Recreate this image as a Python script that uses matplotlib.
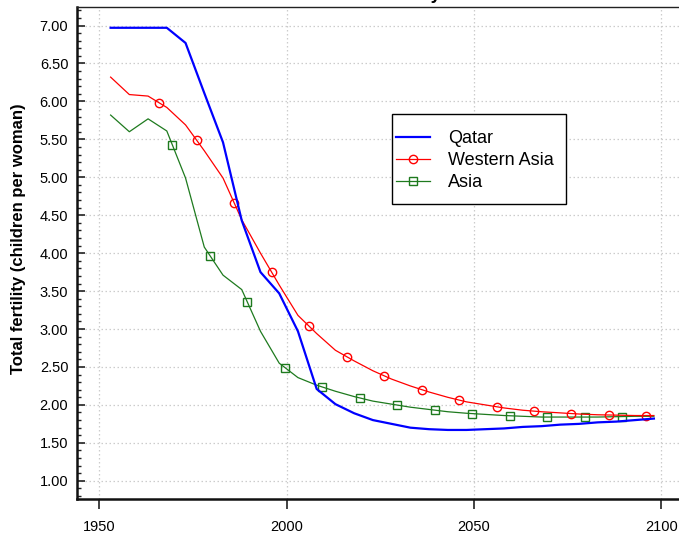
import numpy as np
import matplotlib
matplotlib.use("Agg")
import matplotlib.pyplot as plt
from matplotlib.ticker import MultipleLocator, FixedLocator
from matplotlib.lines import Line2D
from matplotlib.patches import Rectangle

plt.rcParams['font.family'] = ['Liberation Sans', 'DejaVu Sans']

# ---- data (5-year period mid-points) ----
years = [1953, 1958, 1963, 1968, 1973, 1978, 1983, 1988, 1993, 1998,
         2003, 2008, 2013, 2018, 2023, 2028, 2033, 2038, 2043, 2048,
         2053, 2058, 2063, 2068, 2073, 2078, 2083, 2088, 2093, 2098]

qatar = [6.97, 6.97, 6.97, 6.97, 6.77, 6.11, 5.46, 4.43, 3.75, 3.47,
         2.97, 2.21, 2.01, 1.89, 1.80, 1.75, 1.70, 1.68, 1.67, 1.67,
         1.68, 1.69, 1.71, 1.72, 1.74, 1.75, 1.77, 1.78, 1.80, 1.82]

western_asia = [6.32, 6.09, 6.07, 5.92, 5.69, 5.35, 4.99, 4.44, 4.00, 3.58,
                3.18, 2.94, 2.72, 2.58, 2.45, 2.34, 2.25, 2.17, 2.10, 2.04,
                2.00, 1.96, 1.93, 1.91, 1.895, 1.88, 1.87, 1.865, 1.86, 1.86]

asia = [5.82, 5.60, 5.77, 5.61, 4.99, 4.08, 3.71, 3.52, 2.97, 2.55,
        2.36, 2.26, 2.18, 2.11, 2.05, 2.01, 1.97, 1.94, 1.91, 1.89,
        1.875, 1.86, 1.85, 1.84, 1.84, 1.84, 1.84, 1.845, 1.85, 1.85]

series_labels = ["Qatar", "Western Asia", "Asia"]
xticks = [1950, 2000, 2050, 2100]
ytick_labels = ["1.00", "1.50", "2.00", "2.50", "3.00", "3.50",
                "4.00", "4.50", "5.00", "5.50", "6.00", "6.50", "7.00"]

# marker placement along the lines (every 10 years)
wasia_marker_years = np.arange(1966, 2097, 10)
asia_marker_years = np.arange(1969.5, 2090, 10)

# ---- figure ----
W, H = 679, 535
fig = plt.figure(figsize=(W / 100, H / 100), dpi=100)
left, right = 76.7 / W, 1.0
bottom, top = (H - 499) / H, (H - 7.3) / H
ax = fig.add_axes([left, bottom, right - left, top - bottom])

c_q, c_w, c_a = "#0000ff", "#ff0000", "#1e7a1e"

ax.plot(years, asia, color=c_a, lw=0.9, zorder=3)
ax.plot(asia_marker_years, np.interp(asia_marker_years, years, asia),
        ls="none", marker="s", ms=5.5, mfc="none", mec=c_a, mew=1.0, zorder=3)
ax.plot(years, western_asia, color=c_w, lw=0.9, zorder=4)
ax.plot(wasia_marker_years, np.interp(wasia_marker_years, years, western_asia),
        ls="none", marker="o", ms=6, mfc="none", mec=c_w, mew=1.0, zorder=4)
ax.plot(years, qatar, color=c_q, lw=1.6, zorder=5)

ax.set_xlim(1943.95, 2104.7)
ax.set_ylim(0.76, 7.24)

ax.xaxis.set_major_locator(FixedLocator(xticks))
ax.set_xticklabels([str(v) for v in xticks])
yvals = [float(s) for s in ytick_labels]
ax.yaxis.set_major_locator(FixedLocator(yvals))
ax.set_yticklabels(ytick_labels)
ax.yaxis.set_minor_locator(MultipleLocator(0.1))

ax.tick_params(axis="y", which="major", direction="in", length=6, width=1.2,
               labelsize=10.5, pad=6, color="#222222")
ax.tick_params(axis="y", which="minor", direction="in", length=3.2, width=1.0,
               color="#222222")
ax.tick_params(axis="x", which="major", direction="out", length=7, width=1.2,
               labelsize=10.5, pad=8, color="#222222")

ax.grid(True, which="major", color="#cccccc", ls=(0, (1.2, 2)), lw=0.9)
ax.set_axisbelow(True)

for s in ("left", "bottom"):
    ax.spines[s].set_linewidth(1.8)
    ax.spines[s].set_color("#111111")
ax.spines["top"].set_linewidth(1.0)
ax.spines["top"].set_color("#222222")
ax.spines["right"].set_visible(False)

ax.set_ylabel("Total fertility (children per woman)", fontsize=12, fontweight="bold")
ax.yaxis.set_label_coords(-0.085, 0.53)

# legend (frame drawn separately for exact padding)
h_q = Line2D([], [], color=c_q, lw=1.6)
h_w = Line2D([], [], color=c_w, lw=0.9, marker="o", ms=6, mfc="none", mec=c_w)
h_a = Line2D([], [], color=c_a, lw=0.9, marker="s", ms=5.5, mfc="none", mec=c_a)
fig.patches.append(Rectangle((391.7 / W, (H - 204) / H), 174 / W, 89.7 / H,
                             transform=fig.transFigure, facecolor="white",
                             edgecolor="black", lw=1.0, zorder=6))
leg = fig.legend([h_q, h_w, h_a], series_labels, loc="upper left",
                 bbox_to_anchor=(396 / W, (H - 130) / H),
                 fontsize=13, frameon=False,
                 handlelength=1.88, handletextpad=0.98, labelspacing=0.28,
                 borderpad=0, borderaxespad=0)
leg.set_zorder(7)

# title (almost entirely above the visible area; only the descender of "y" shows)
fig.text(441 / W, 1.0 + 1.0 / H, "Total fertility", ha="right", va="baseline",
         fontsize=13, fontweight="bold")

fig.savefig("out.png", dpi=100)
